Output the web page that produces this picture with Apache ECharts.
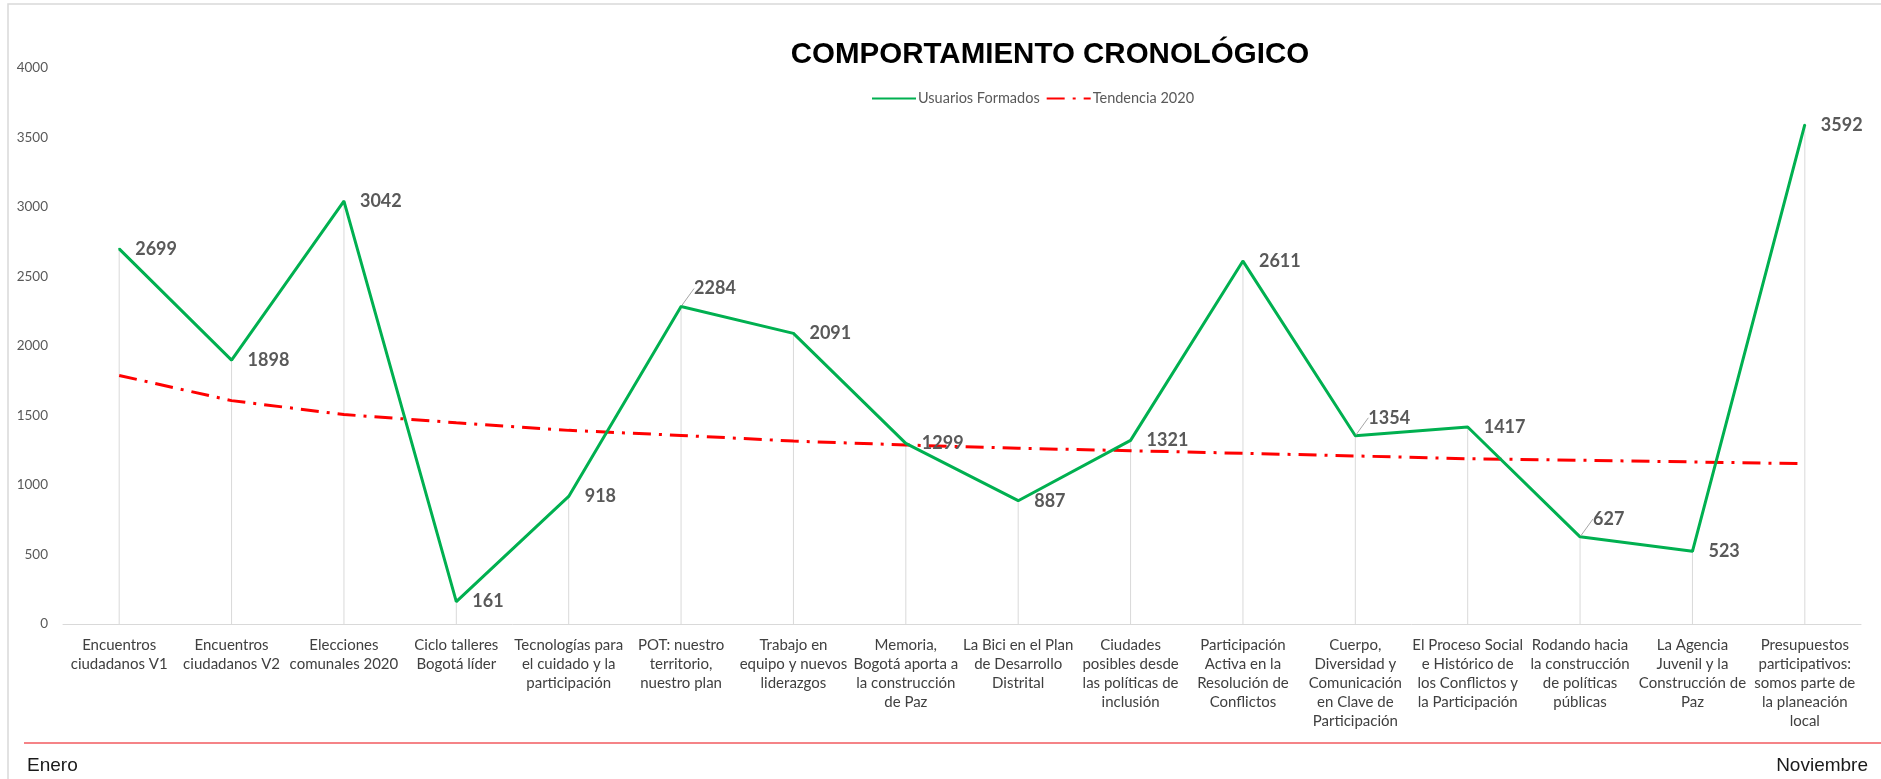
<!DOCTYPE html>
<html>
<head>
<meta charset="utf-8" />
<script src="https://cdn.jsdelivr.net/npm/echarts@6/dist/echarts.min.js"></script>
<title>Comportamiento cronológico</title>
<style>
  html, body { margin:0; padding:0; background:#fff; }
</style>
</head>
<body>
<div id="main" style="width:1881px; height:779px"></div>
<script type="text/javascript">
// categorias (con los saltos de linea del original)
var categorias = [
  'Encuentros\nciudadanos V1',
  'Encuentros\nciudadanos V2',
  'Elecciones\ncomunales 2020',
  'Ciclo talleres\nBogotá líder',
  'Tecnologías para\nel cuidado y la\nparticipación',
  'POT: nuestro\nterritorio,\nnuestro plan',
  'Trabajo en\nequipo y nuevos\nliderazgos',
  'Memoria,\nBogotá aporta a\nla construcción\nde Paz',
  'La Bici en el Plan\nde Desarrollo\nDistrital',
  'Ciudades\nposibles desde\nlas políticas de\ninclusión',
  'Participación\nActiva en la\nResolución de\nConflictos',
  'Cuerpo,\nDiversidad y\nComunicación\nen Clave de\nParticipación',
  'El Proceso Social\ne Histórico de\nlos Conflictos y\nla Participación',
  'Rodando hacia\nla construcción\nde políticas\npúblicas',
  'La Agencia\nJuvenil y la\nConstrucción de\nPaz',
  'Presupuestos\nparticipativos:\nsomos parte de\nla planeación\nlocal'
];
var usuarios = [2699, 1898, 3042, 161, 918, 2284, 2091, 1299, 887, 1321, 2611, 1354, 1417, 627, 523, 3592];
var tendencia = [1788, 1607, 1507, 1448, 1393, 1357, 1316, 1288, 1264, 1247, 1228, 1209, 1189, 1178, 1166, 1153];
var yMin = 0, yMax = 4000, yPaso = 500;
var etiquetasSubidas = [5, 11, 13]; // etiquetas con linea guia

var fuente = "Lato, 'Open Sans', sans-serif";

// los puntos con etiqueta desplazada llevan linea guia
var usuariosDatos = usuarios.map(function (v, i) {
  if (etiquetasSubidas.indexOf(i) >= 0) {
    return { value: v, labelLine: { show: true } };
  }
  return v;
});

var myChart = echarts.init(document.getElementById('main'));
myChart.setOption({
  animation: false,
  backgroundColor: '#ffffff',
  title: [
    {
      text: 'COMPORTAMIENTO CRONOLÓGICO',
      left: 1045, top: 35, textAlign: 'center',
      textStyle: { fontFamily: "'Liberation Sans Narrow', 'Arial Narrow', 'Liberation Sans', sans-serif", fontWeight: 'bold', fontSize: 29.5, color: '#000' }
    },
    {
      text: 'Enero', left: 22, top: 751,
      textStyle: { fontFamily: "'Liberation Sans Narrow', 'Liberation Sans', sans-serif", fontWeight: 'normal', fontSize: 19, color: '#1a1a1a' }
    },
    {
      text: 'Noviembre', right: 8, top: 751,
      textStyle: { fontFamily: "'Liberation Sans Narrow', 'Liberation Sans', sans-serif", fontWeight: 'normal', fontSize: 19, color: '#1a1a1a' }
    }
  ],
  legend: {
    data: ['Usuarios Formados', 'Tendencia 2020'],
    left: 866, top: 86,
    itemWidth: 44, itemHeight: 10, itemGap: 6,
    itemStyle: { opacity: 0 },
    textStyle: { fontFamily: fuente, fontSize: 14.5, color: '#595959', padding: [0, 0, 0, -3] }
  },
  grid: { left: 63, right: 20, top: 68, bottom: 155, containLabel: false },
  xAxis: {
    type: 'category',
    data: categorias,
    boundaryGap: true,
    axisLine: { lineStyle: { color: '#d9d9d9', width: 1 } },
    axisTick: { show: false },
    axisLabel: {
      interval: 0, margin: 12,
      fontFamily: fuente, fontSize: 15, lineHeight: 19, color: '#404040', align: 'center'
    },
    splitLine: { show: false }
  },
  yAxis: {
    type: 'value',
    min: yMin, max: yMax, interval: yPaso,
    axisLine: { show: false },
    axisTick: { show: false },
    splitLine: { show: false },
    axisLabel: {
      margin: 15, fontFamily: fuente, fontSize: 13.5, color: '#595959',
      formatter: function (v) { return String(v); }
    }
  },
  graphic: [
    { type: 'rect', silent: true, shape: { x: 8, y: 4, width: 1900, height: 800 },
      style: { fill: 'none', stroke: '#d9d9d9', lineWidth: 1.5 } },
    { type: 'line', silent: true, shape: { x1: 24, y1: 743, x2: 1881, y2: 743 },
      style: { stroke: '#f25a5f', lineWidth: 1.5 } }
  ],
  series: [
    {
      name: 'lineas',
      type: 'bar',
      data: usuarios,
      barWidth: 1,
      silent: true,
      itemStyle: { color: '#d9d9d9' },
      z: 1
    },
    {
      name: 'Tendencia 2020',
      type: 'line',
      data: tendencia,
      symbol: 'none',
      lineStyle: { color: '#ff0000', width: 3, type: [18, 8, 3, 8] },
      itemStyle: { color: '#ff0000' },
      z: 2
    },
    {
      name: 'Usuarios Formados',
      type: 'line',
      data: usuariosDatos,
      symbol: 'circle', symbolSize: 2,
      lineStyle: { color: '#00b050', width: 3 },
      itemStyle: { color: '#00b050' },
      label: {
        show: true, position: 'right', distance: 15,
        fontFamily: fuente, fontWeight: 'bold', fontSize: 18, color: '#595959'
      },
      labelLine: { show: false, lineStyle: { color: '#a6a6a6', width: 1 } },
      labelLayout: function (params) {
        if (etiquetasSubidas.indexOf(params.dataIndex) >= 0) {
          return { dx: -3, dy: -18 };
        }
        return {};
      },
      z: 3
    }
  ]
});
</script>
</body>
</html>
